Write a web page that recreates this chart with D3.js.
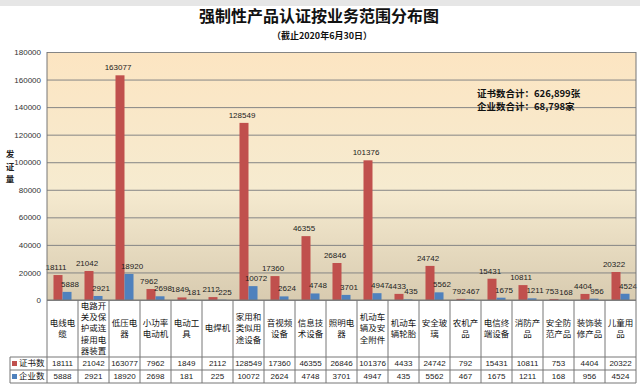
<!DOCTYPE html>
<html><head><meta charset="utf-8">
<script src="https://cdn.jsdelivr.net/npm/d3@7"></script>
<style>
html,body{margin:0;padding:0;background:#fff;}
svg{display:block;}
</style></head>
<body>
<svg id="chart" width="640" height="390"></svg>
<script>
const categories = [
  ["电线电","缆"],
  ["电路开","关及保","护或连","接用电","器装置"],
  ["低压电","器"],
  ["小功率","电动机"],
  ["电动工","具"],
  ["电焊机"],
  ["家用和","类似用","途设备"],
  ["音视频","设备"],
  ["信息技","术设备"],
  ["照明电","器"],
  ["机动车","辆及安","全附件"],
  ["机动车","辆轮胎"],
  ["安全玻","璃"],
  ["农机产","品"],
  ["电信终","端设备"],
  ["消防产","品"],
  ["安全防","范产品"],
  ["装饰装","修产品"],
  ["儿童用","品"]
];
const certCounts = [18111,21042,163077,7962,1849,2112,128549,17360,46355,26846,101376,4433,24742,792,15431,10811,753,4404,20322];
const entCounts  = [5888,2921,18920,2698,181,225,10072,2624,4748,3701,4947,435,5562,467,1675,1211,168,956,4524];
const seriesNames = ["证书数","企业数"];
const seriesColors = ["#C0504D","#4F81BD"];
const yTicks = [0,20000,40000,60000,80000,100000,120000,140000,160000,180000];
const titleText = "强制性产品认证按业务范围分布图";
const subtitleText = "（截止2020年6月30日）";
const yLabel = ["发","证","量"];
const noteLines = ["证书数合计：626,899张","企业数合计：68,798家"];

const svg = d3.select("#chart");
const L = 47, R = 636, T = 52, B = 300;
const rowTop = 357, rowMid = 370, rowBot = 383, tableLeft = 10;
const cjk = "'Noto Sans CJK SC', sans-serif";
const num = "'Liberation Sans', Arial, sans-serif";

svg.append("rect").attr("x",0).attr("y",0).attr("width",640).attr("height",6).attr("fill","#e6e6e6");

const defs = svg.append("defs");
const g = defs.append("linearGradient").attr("id","bg").attr("x1",0).attr("y1",0).attr("x2",0).attr("y2",1);
g.append("stop").attr("offset","0%").attr("stop-color","#FCE5C2");
g.append("stop").attr("offset","55%").attr("stop-color","#F6EBD0");
g.append("stop").attr("offset","100%").attr("stop-color","#D8CBB0");

const x = d3.scaleBand().domain(d3.range(categories.length)).range([L,R]).padding(0);
const x1 = d3.scaleBand().domain([0,1]).range([0,x.bandwidth()]).paddingInner(0).paddingOuter(0.72);
const y = d3.scaleLinear().domain([0,180000]).range([B,T]);

svg.append("rect").attr("x",L).attr("y",T).attr("width",R-L).attr("height",B-T).attr("fill","url(#bg)");

const grid = svg.append("g").attr("transform",`translate(${L},0)`)
  .call(d3.axisLeft(y).tickValues(yTicks).tickSize(-(R-L)).tickFormat(""));
grid.select(".domain").remove();
grid.selectAll("line").attr("stroke","#858585").attr("stroke-width",1);

const ya = svg.append("g").attr("transform",`translate(${L},0)`)
  .call(d3.axisLeft(y).tickValues(yTicks).tickSize(0).tickPadding(6).tickFormat(d3.format("d")));
ya.select(".domain").remove();
ya.selectAll("text").attr("font-family",num).attr("font-size",8).attr("fill","#333");

svg.append("g").selectAll("text").data(yLabel).join("text")
  .attr("x",10).attr("y",(d,i)=>157+i*12.5).attr("text-anchor","middle")
  .attr("font-family",cjk).attr("font-weight","bold").attr("font-size",8.5).attr("fill","#222").text(d=>d);

const data = categories.map((c,i)=>({i, vals:[certCounts[i], entCounts[i]]}));
const groups = svg.append("g").selectAll("g").data(data).join("g")
  .attr("transform",d=>`translate(${x(d.i)},0)`);
groups.selectAll("rect").data(d=>d.vals.map((v,k)=>({v,k}))).join("rect")
  .attr("x",d=>x1(d.k)).attr("width",x1.bandwidth())
  .attr("y",d=>y(d.v)).attr("height",d=>B-y(d.v))
  .attr("fill",d=>seriesColors[d.k]);
groups.selectAll("text").data(d=>d.vals.map((v,k)=>({v,k}))).join("text")
  .attr("x",d=>x1(d.k)+x1.bandwidth()/2 + (d.k===1?3:-2)).attr("y",d=>y(d.v)-5)
  .attr("text-anchor","middle").attr("font-family",num).attr("font-size",8).attr("fill","#222")
  .text(d=>d.v);

svg.append("line").attr("x1",L).attr("x2",L).attr("y1",T).attr("y2",rowBot).attr("stroke","#777");
svg.append("line").attr("x1",R).attr("x2",R).attr("y1",T).attr("y2",rowBot).attr("stroke","#777");
svg.append("line").attr("x1",L).attr("x2",R).attr("y1",B).attr("y2",B).attr("stroke","#777");

const tbl = svg.append("g");
[rowTop,rowMid,rowBot].forEach(yy=>{
  tbl.append("line").attr("x1",tableLeft).attr("x2",R).attr("y1",yy).attr("y2",yy).attr("stroke","#777");
});
tbl.append("line").attr("x1",tableLeft).attr("x2",tableLeft).attr("y1",rowTop).attr("y2",rowBot).attr("stroke","#777");
tbl.selectAll(".sep").data(d3.range(1,categories.length)).join("line")
  .attr("x1",d=>x(d)).attr("x2",d=>x(d)).attr("y1",B).attr("y2",rowBot).attr("stroke","#777");

const lh = 11.2;
categories.forEach((lines,i)=>{
  const cx = x(i)+x.bandwidth()/2;
  const cy = (B+rowTop)/2;
  const start = cy - (lines.length-1)*lh/2;
  tbl.append("g").selectAll("text").data(lines).join("text")
    .attr("x",cx).attr("y",(d,k)=>start+k*lh).attr("dy","0.35em")
    .attr("text-anchor","middle").attr("font-family",cjk).attr("font-size",8.5).attr("fill","#111")
    .text(d=>d);
});

[certCounts, entCounts].forEach((arr,r)=>{
  const cy = r===0 ? (rowTop+rowMid)/2 : (rowMid+rowBot)/2;
  tbl.append("g").selectAll("text").data(arr).join("text")
    .attr("x",(d,i)=>x(i)+x.bandwidth()/2).attr("y",cy).attr("dy","0.35em")
    .attr("text-anchor","middle").attr("font-family",num).attr("font-size",8).attr("fill","#222")
    .text(d=>d);
  tbl.append("rect").attr("x",12).attr("y",cy-2.5).attr("width",5).attr("height",5).attr("fill",seriesColors[r]);
  tbl.append("text").attr("x",19).attr("y",cy).attr("dy","0.35em")
    .attr("font-family",cjk).attr("font-size",8.5).attr("fill","#111").text(seriesNames[r]);
});

svg.append("text").attr("x",319).attr("y",22).attr("text-anchor","middle")
  .attr("font-family",cjk).attr("font-weight","bold").attr("font-size",16).attr("fill","#111").text(titleText);
svg.append("text").attr("x",322).attr("y",39).attr("text-anchor","middle")
  .attr("font-family",cjk).attr("font-weight","bold").attr("font-size",9).attr("fill","#111").text(subtitleText);

svg.append("g").selectAll("text").data(noteLines).join("text")
  .attr("x",477).attr("y",(d,i)=>97+i*13)
  .attr("font-family",cjk).attr("font-weight","bold").attr("font-size",9.5).attr("fill","#111").text(d=>d);
</script>
</body></html>
